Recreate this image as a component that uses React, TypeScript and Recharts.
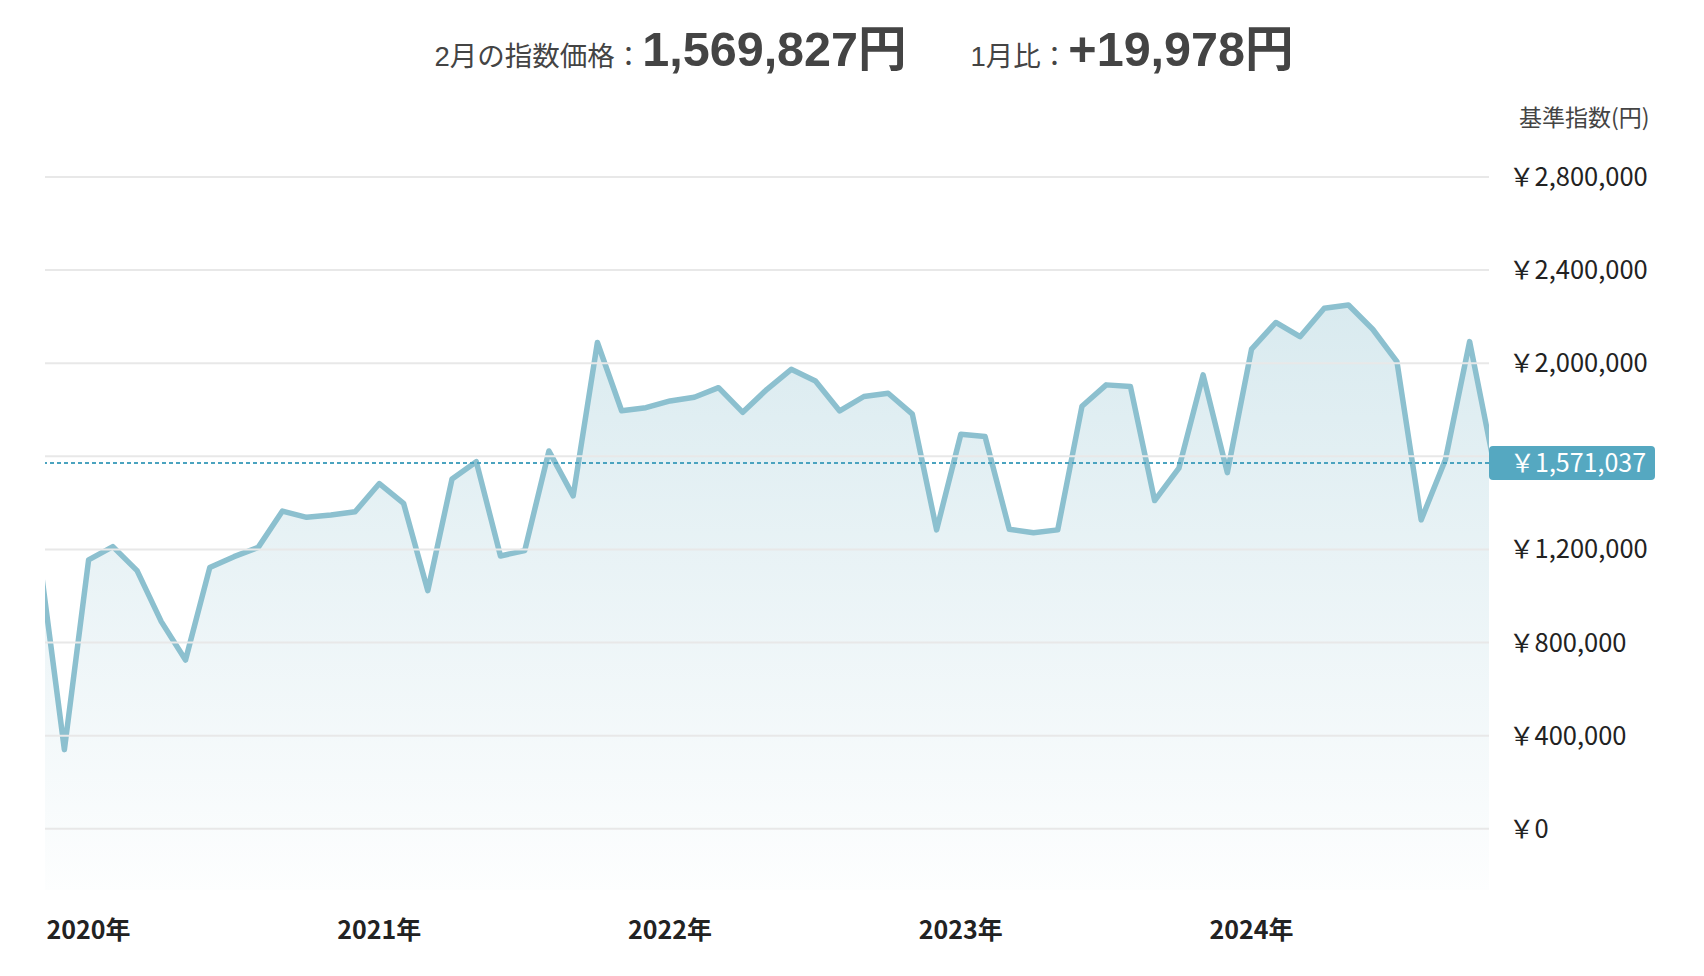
import { AreaChart, Area, XAxis, YAxis, ReferenceLine } from 'recharts'

const MONTHS = [
  '2019-11', '2019-12',
  '2020-01', '2020-02', '2020-03', '2020-04', '2020-05', '2020-06', '2020-07', '2020-08', '2020-09', '2020-10', '2020-11', '2020-12',
  '2021-01', '2021-02', '2021-03', '2021-04', '2021-05', '2021-06', '2021-07', '2021-08', '2021-09', '2021-10', '2021-11', '2021-12',
  '2022-01', '2022-02', '2022-03', '2022-04', '2022-05', '2022-06', '2022-07', '2022-08', '2022-09', '2022-10', '2022-11', '2022-12',
  '2023-01', '2023-02', '2023-03', '2023-04', '2023-05', '2023-06', '2023-07', '2023-08', '2023-09', '2023-10', '2023-11', '2023-12',
  '2024-01', '2024-02', '2024-03', '2024-04', '2024-05', '2024-06', '2024-07', '2024-08', '2024-09', '2024-10', '2024-11',
]

const INDEX_VALUES = [
  1140000, 340000,
  1155000, 1212000, 1109000, 890000, 725000, 1122000, 1169000, 1209000, 1365000, 1338000, 1348000, 1362000,
  1483000, 1398000, 1023000, 1503000, 1577000, 1172000, 1195000, 1623000, 1430000, 2089000, 1796000, 1809000,
  1838000, 1854000, 1895000, 1789000, 1888000, 1974000, 1924000, 1795000, 1857000, 1871000, 1781000, 1284000,
  1695000, 1685000, 1287000, 1272000, 1284000, 1815000, 1907000, 1900000, 1410000, 1549000, 1950000, 1530000,
  2061000, 2175000, 2114000, 2236000, 2250000, 2146000, 2007000, 1327000, 1585000, 2093000, 1569827,
]

const Y_TICKS = [0, 400000, 800000, 1200000, 1600000, 2000000, 2400000, 2800000]
const BASE_LINE = 1571037
const LATEST_MONTH = '2月'
const LATEST_PRICE = 1569827
const PREV_MONTH = '1月'
const CHANGE = 19978

const data = MONTHS.map((month, i) => ({ i, month, value: INDEX_VALUES[i] }))
const yearTicks = data.filter((d) => d.month.endsWith('-01')).map((d) => d.i)

const JP = '"Noto Sans CJK JP", sans-serif'
const TITLE_FONT = '"Liberation Sans", "Noto Sans CJK JP", sans-serif'

const yen = (v: number) => '￥' + v.toLocaleString('en-US')

// value box pinned to the right end of the dashed base line
function BaseLabel(props: any) {
  const { x, y, width } = props.viewBox
  const left = x + width
  return (
    <g>
      <rect x={left} y={y - 17} width={166} height={34} rx={4} fill="#55a8c1" />
      <text x={left + 21} y={y} dy="0.36em" fill="#fff" fontSize={25} fontFamily={JP}>
        {yen(BASE_LINE)}
      </text>
    </g>
  )
}

export default function App() {
  return (
    <div style={{ position: 'relative', width: 1688, height: 960, background: '#fff' }}>
      <div
        style={{
          position: 'absolute', top: 17, left: 12, width: 1688,
          display: 'flex', justifyContent: 'center', alignItems: 'baseline',
          fontFamily: TITLE_FONT, color: '#444', lineHeight: 1,
        }}
      >
        <span style={{ fontSize: 27.5 }}>{LATEST_MONTH}の指数価格：</span>
        <span style={{ fontSize: 48.5, fontWeight: 700 }}>{LATEST_PRICE.toLocaleString('en-US')}円</span>
        <span style={{ fontSize: 27.5, marginLeft: 64 }}>{PREV_MONTH}比：</span>
        <span style={{ fontSize: 48.5, fontWeight: 700 }}>+{CHANGE.toLocaleString('en-US')}円</span>
      </div>
      <div
        style={{
          position: 'absolute', top: 97, left: 1511, fontFamily: JP, fontSize: 23,
          color: '#444', lineHeight: 1,
        }}
      >
        基準指数(円)
      </div>
      <AreaChart
        width={1688}
        height={960}
        data={data}
        margin={{ top: 169, right: 7, bottom: 28, left: 37 }}
      >
        <defs>
          <linearGradient id="fillGrad" x1="0" y1="0" x2="0" y2="1">
            <stop offset="0%" stopColor="#8cc0cf" stopOpacity={0.55} />
            <stop offset="100%" stopColor="#8cc0cf" stopOpacity={0.03} />
          </linearGradient>
        </defs>
        <XAxis
          dataKey="i"
          type="number"
          domain={[0.2, 59.8]}
          allowDataOverflow
          ticks={yearTicks}
          tickFormatter={(i: number) => MONTHS[i].slice(0, 4) + '年'}
          axisLine={false}
          tickLine={false}
          tickSize={0}
          tickMargin={31}
          height={50}
          tick={{ fill: '#222', fontSize: 25, fontWeight: 700, fontFamily: JP }}
        />
        <YAxis
          orientation="right"
          type="number"
          domain={[-263000, 2800000]}
          ticks={Y_TICKS}
          tickFormatter={yen}
          axisLine={false}
          tickLine={false}
          tickSize={0}
          tickMargin={20}
          width={200}
          tick={{ fill: '#222', fontSize: 25.5, fontFamily: JP, textAnchor: 'start' }}
        />
        {Y_TICKS.map((t) => (
          <ReferenceLine key={t} y={t} stroke="#e8e8e8" strokeWidth={2} />
        ))}
        <Area
          type="linear"
          dataKey="value"
          baseValue="dataMin"
          stroke="#8cc0cf"
          strokeWidth={5.5}
          strokeLinejoin="round"
          fill="url(#fillGrad)"
          isAnimationActive={false}
          dot={false}
          activeDot={false}
        />
        <ReferenceLine
          y={BASE_LINE}
          stroke="#4aa3bf"
          strokeWidth={2}
          strokeDasharray="4 3"
          zIndex={2500}
          label={<BaseLabel />}
        />
      </AreaChart>
    </div>
  )
}
